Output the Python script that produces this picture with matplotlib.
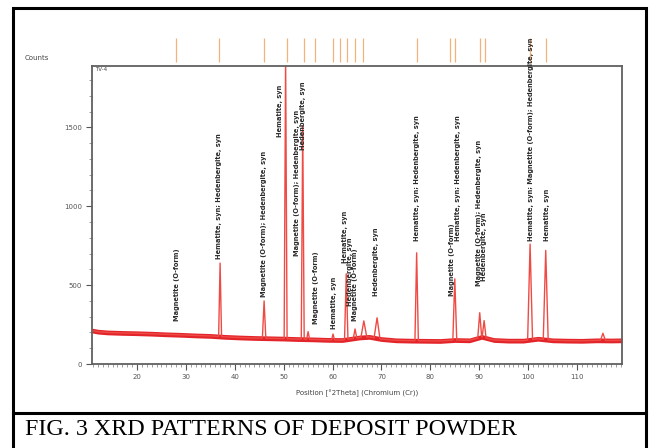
import numpy as np
import matplotlib.pyplot as plt
from matplotlib.patches import Rectangle
from matplotlib.lines import Line2D

# scan background (2theta, counts)
bg_pos = [10.8, 12, 14, 17, 20, 23, 26, 29, 32, 35, 38, 41, 44, 47, 50, 53,
          56, 59, 62, 65.5, 67.5, 70, 73, 76, 79, 82, 85, 88, 90.5, 93, 96,
          99, 102, 105, 108, 111, 114, 117, 119.2]
bg_counts = [212, 205, 200, 197, 195, 192, 188, 185, 181, 178, 172, 168, 165,
             163, 161, 158, 156, 153, 152, 168, 172, 158, 150, 148, 147, 146,
             152, 150, 172, 152, 148, 148, 160, 150, 148, 147, 150, 149, 150]

# peaks: position (2theta), apex counts, half base width (2theta)
peak_pos = [37.0, 46.0, 50.4, 53.9, 55.0, 60.1, 62.8, 64.6, 66.4, 69.1,
            77.2, 85.0, 90.1, 91.0, 100.4, 103.6, 115.3]
peak_counts = [640, 400, 1950, 1510, 205, 190, 572, 222, 273, 293,
               705, 540, 325, 275, 760, 720, 195]
peak_halfwidth = [0.3, 0.35, 0.3, 0.3, 0.3, 0.3, 0.35, 0.35, 0.6, 0.6,
                  0.35, 0.4, 0.4, 0.4, 0.5, 0.5, 0.5]

# reference pattern sticks above the scan
ref_pos = [28.0, 36.8, 46.0, 50.7, 54.2, 56.4, 60.1, 61.5, 62.9, 64.6, 66.2,
           77.3, 84.0, 85.0, 90.1, 91.2, 100.4, 103.6]

# phase labels: position, counts at the foot of the text, text
label_pos = [28.2, 36.8, 46.0, 49.2, 52.7, 53.9, 56.6, 60.3, 62.5, 63.6,
             64.6, 68.9, 77.3, 84.4, 85.6, 89.9, 91.0, 100.6, 103.8]
label_counts = [274, 668, 426, 1438, 687, 1355, 254, 223, 642, 369,
                274, 432, 782, 432, 782, 496, 528, 782, 782]
label_text = [
    "Magnetite (O-form)",
    "Hematite, syn; Hedenbergite, syn",
    "Magnetite (O-form); Hedenbergite, syn",
    "Hematite, syn",
    "Magnetite (O-form); Hedenbergite, syn",
    "Hedenbergite, syn",
    "Magnetite (O-form)",
    "Hematite, syn",
    "Hematite, syn",
    "Hedenbergite, syn",
    "Magnetite (O-form)",
    "Hedenbergite, syn",
    "Hematite, syn; Hedenbergite, syn",
    "Magnetite (O-form)",
    "Hematite, syn; Hedenbergite, syn",
    "Magnetite (O-form); Hedenbergite, syn",
    "Hedenbergite, syn",
    "Hematite, syn; Magnetite (O-form); Hedenbergite, syn",
    "Hematite, syn",
]

x_ticks = [20, 30, 40, 50, 60, 70, 80, 90, 100, 110]
y_ticks = [0, 500, 1000, 1500]


def scan_profile():
    # background points outside the peaks, plus a foot-apex-foot for each peak
    xs, ys = [], []
    for x, y in zip(bg_pos, bg_counts):
        if all(abs(x - p) > w for p, w in zip(peak_pos, peak_halfwidth)):
            xs.append(x)
            ys.append(y)
    for p, h, w in zip(peak_pos, peak_counts, peak_halfwidth):
        for x in (p - w, p + w):
            xs.append(x)
            ys.append(np.interp(x, bg_pos, bg_counts))
        xs.append(p)
        ys.append(h)
    order = np.argsort(xs)
    return np.array(xs)[order], np.array(ys)[order]


W, H = 650, 448
fig = plt.figure(figsize=(W / 100, H / 100), dpi=100)
ax = fig.add_axes([92 / W, 1 - 364 / H, 530 / W, 298 / H])

# noisy band of the background
bg = np.array(bg_counts)
ax.fill_between(bg_pos, bg - 15, bg + 15, color="#e3242a", lw=0)
pos, counts = scan_profile()
ax.plot(pos, counts, color="#ef4b45", lw=1.0)

for x, y, t in zip(label_pos, label_counts, label_text):
    ax.text(x, y, t, rotation=90, ha="center", va="bottom", fontsize=4.75,
            fontweight="bold", color="#2a2a2a", clip_on=False)

ax.vlines(ref_pos, 1.013, 1.094, transform=ax.get_xaxis_transform(),
          color="#f2b27a", lw=0.9, clip_on=False)

ax.set_xlim(10.8, 119.2)
ax.set_ylim(0, 1889)
ax.set_xticks(x_ticks)
ax.set_xticks(np.arange(11, 120, 1), minor=True)
ax.set_yticks(y_ticks)
ax.set_yticks(np.arange(100, 1889, 100), minor=True)
ax.tick_params(axis="both", which="major", labelsize=5, colors="#555",
               length=4, width=0.8, pad=3)
ax.tick_params(axis="both", which="minor", colors="#777", length=2, width=0.5)
for side in ax.spines.values():
    side.set_color("#606060")
    side.set_linewidth(1.3)
ax.set_xlabel("Position [°2Theta] (Chromium (Cr))", fontsize=5, color="#444",
              labelpad=7)

fig.text(25 / W, 1 - 58 / H, "Counts", fontsize=5, color="#444", va="center")
ax.text(0.006, 0.995, "TV-4", transform=ax.transAxes, fontsize=4, color="#444",
        va="top")

# page frame and caption
fig.patches.append(Rectangle((13 / W, -0.02), 633 / W, 1 - 8 / H + 0.02,
                             transform=fig.transFigure, fill=False,
                             ec="black", lw=2.2))
fig.lines.append(Line2D([13 / W, 646 / W], [1 - 413 / H, 1 - 413 / H],
                        transform=fig.transFigure, color="black", lw=2.2))
fig.text(25 / W, 1 - 435 / H, "FIG. 3 XRD PATTERNS OF DEPOSIT POWDER",
         family="Liberation Serif", fontsize=17.3, va="baseline")

fig.savefig("out.png", dpi=100)
